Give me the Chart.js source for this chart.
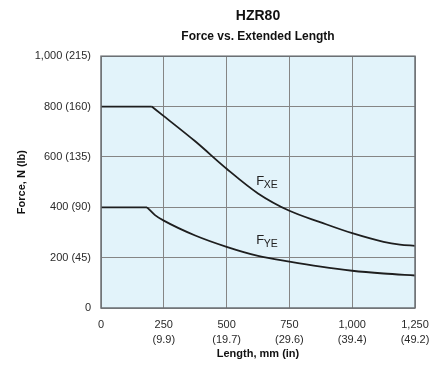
<!DOCTYPE html>
<html>
<head>
<meta charset="utf-8">
<script src="https://cdn.jsdelivr.net/npm/chart.js@4/dist/chart.umd.min.js"></script>
<style>
html,body{margin:0;padding:0;background:#fff;}
#wrap{width:432px;height:369px;position:relative;}
</style>
</head>
<body>
<div id="wrap"><canvas id="c"></canvas></div>
<script>
// Data
const chartTitle = "HZR80";
const chartSubtitle = "Force vs. Extended Length";
const xAxisTitle = "Length, mm (in)";
const yAxisTitle = "Force, N (lb)";

const xTickValues = [0, 250, 500, 750, 1000, 1250];
const xTickLabels = [["0"], ["250", "(9.9)"], ["500", "(19.7)"], ["750", "(29.6)"], ["1,000", "(39.4)"], ["1,250", "(49.2)"]];
const yTickValues = [0, 200, 400, 600, 800, 1000];
const yTickLabels = ["0", "200 (45)", "400 (90)", "600 (135)", "800 (160)", "1,000 (215)"];

// F_XE curve (length mm, force N)
const fxeLength = [0, 202, 250, 375, 500, 625, 750, 875, 1000, 1125, 1190, 1250];
const fxeForce  = [800, 800, 762, 662, 553, 455, 386, 340, 297, 263, 252, 247];
// F_YE curve
const fyeLength = [0, 183, 215, 250, 375, 500, 625, 750, 875, 1000, 1125, 1250];
const fyeForce  = [400, 400, 369, 347, 288, 243, 207, 184, 164, 148, 137, 129];

// Curve labels (main letter, subscript, anchor in data units)
const curveLabels = [
  {main: "F", sub: "XE", x: 618, y: 488},
  {main: "F", sub: "YE", x: 618, y: 254}
];

const FONT = "'Liberation Sans', Arial, Helvetica, sans-serif";

function pts(xs, ys, from, to) {
  const out = [];
  for (let i = from; i < to; i++) out.push({x: xs[i], y: ys[i]});
  return out;
}

const lineStyle = {borderColor: '#1e1e1e', borderWidth: 1.8, pointRadius: 0, fill: false};

const datasets = [
  Object.assign({label: 'FXE flat', data: pts(fxeLength, fxeForce, 0, 2), tension: 0}, lineStyle),
  Object.assign({label: 'FXE', data: pts(fxeLength, fxeForce, 1, fxeLength.length), cubicInterpolationMode: 'monotone'}, lineStyle),
  Object.assign({label: 'FYE flat', data: pts(fyeLength, fyeForce, 0, 2), tension: 0}, lineStyle),
  Object.assign({label: 'FYE', data: pts(fyeLength, fyeForce, 1, fyeLength.length), cubicInterpolationMode: 'monotone'}, lineStyle)
];

const plotDecor = {
  id: 'plotDecor',
  beforeDraw(chart) {
    const a = chart.chartArea, ctx = chart.ctx;
    ctx.save();
    ctx.fillStyle = '#e2f3fa';
    ctx.fillRect(a.left, a.top, a.right - a.left, a.bottom - a.top);
    ctx.restore();
  },
  afterDatasetsDraw(chart) {
    const a = chart.chartArea, ctx = chart.ctx;
    ctx.save();
    ctx.strokeStyle = '#6c7074';
    ctx.lineWidth = 1.5;
    ctx.strokeRect(a.left, a.top, a.right - a.left, a.bottom - a.top);
    // curve labels
    const xs = chart.scales.x, ys = chart.scales.y;
    ctx.fillStyle = '#222';
    ctx.textBaseline = 'alphabetic';
    curveLabels.forEach(l => {
      const px = xs.getPixelForValue(l.x), py = ys.getPixelForValue(l.y);
      ctx.font = '13px ' + FONT;
      ctx.fillText(l.main, px, py);
      const w = ctx.measureText(l.main).width;
      ctx.font = '10.5px ' + FONT;
      ctx.fillText(l.sub, px + w - 0.5, py + 3);
    });
    ctx.restore();
  }
};

new Chart(document.getElementById('c'), {
  type: 'line',
  data: {datasets},
  plugins: [plotDecor],
  options: {
    responsive: true,
    maintainAspectRatio: false,
    animation: false,
    layout: {padding: {left: 11, right: 17, top: 0, bottom: 4}},
    plugins: {
      legend: {display: false},
      tooltip: {enabled: false},
      title: {
        display: true, text: chartTitle, fullSize: false, color: '#111',
        font: {family: FONT, size: 14, weight: 'bold'},
        padding: {top: 8, bottom: 4}
      },
      subtitle: {
        display: true, text: chartSubtitle, fullSize: false, color: '#111',
        font: {family: FONT, size: 12, weight: 'bold'},
        padding: {top: 1, bottom: 12}
      }
    },
    scales: {
      x: {
        type: 'linear', min: 0, max: 1250,
        afterBuildTicks(scale) { scale.ticks = xTickValues.map(v => ({value: v})); },
        afterFit(scale) { scale.height = 57; scale.paddingLeft = 0; scale.paddingRight = 0; },
        ticks: {
          autoSkip: false, maxRotation: 0, padding: 9, color: '#2a2a2a',
          font: {family: FONT, size: 11, lineHeight: 1.4},
          callback(value) { const i = xTickValues.indexOf(value); return i >= 0 ? xTickLabels[i] : ''; }
        },
        grid: {color: '#858585', lineWidth: 1, drawTicks: false},
        border: {display: false},
        title: {display: true, text: xAxisTitle, color: '#111', font: {family: FONT, size: 11, weight: 'bold'}, padding: {top: 3, bottom: 4}}
      },
      y: {
        type: 'linear', min: 0, max: 1000,
        afterBuildTicks(scale) { scale.ticks = yTickValues.map(v => ({value: v})); },
        afterFit(scale) { scale.width = 90; },
        ticks: {
          autoSkip: false, padding: 10, color: '#2a2a2a',
          font: {family: FONT, size: 11},
          callback(value) { const i = yTickValues.indexOf(value); return i >= 0 ? yTickLabels[i] : ''; }
        },
        grid: {color: '#858585', lineWidth: 1, drawTicks: false},
        border: {display: false},
        title: {display: true, text: yAxisTitle, color: '#111', font: {family: FONT, size: 11, weight: 'bold'}, padding: {top: 4, bottom: 4}}
      }
    }
  }
});
</script>
</body>
</html>
